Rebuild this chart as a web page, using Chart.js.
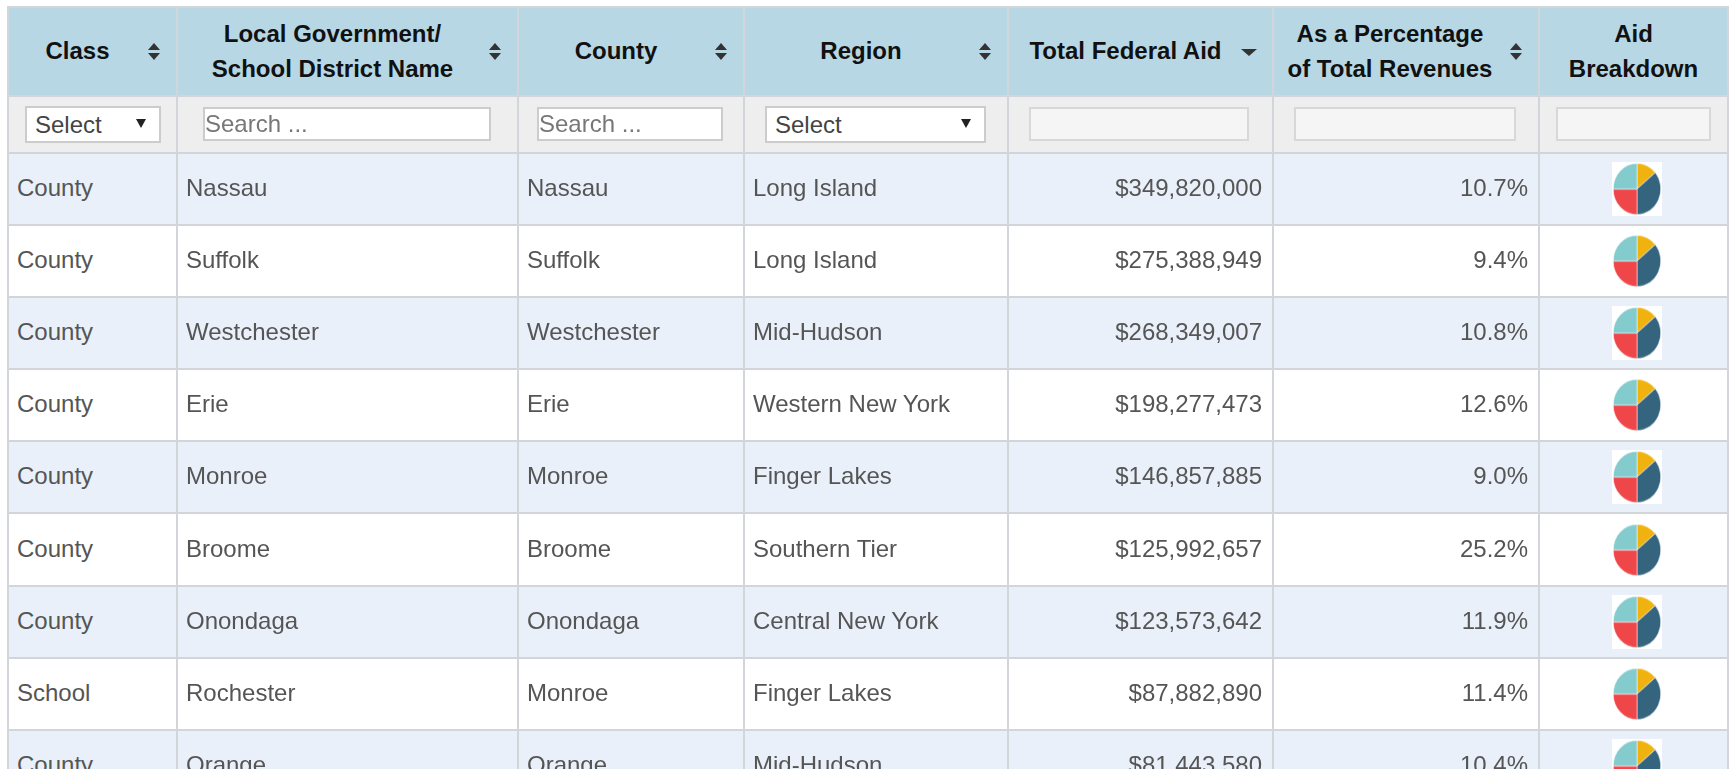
<!DOCTYPE html>
<html>
<head>
<meta charset="utf-8">
<title>Federal Aid</title>
<script src="https://cdn.jsdelivr.net/npm/chart.js@4"></script>
<style>
html, body { margin: 0; padding: 0; height: 769px; overflow: hidden; background: #fff; }
table {
    position: absolute; left: 7px; top: 6px; width: 1720px;
    table-layout: fixed; border-collapse: collapse;
    font-family: "Liberation Sans", Arial, sans-serif; font-size: 24px; color: #555;
    filter: blur(0.5px);
}
th, td { border: 2px solid #d2d5d9; padding: 0; position: relative; }
thead tr.head th {
    height: 89px; background: #b7d7e4; color: #111; font-size: 24px; line-height: 35px;
    font-weight: bold; text-align: center; padding: 0 30px 2px 0; box-sizing: border-box;
}
thead tr.head th:nth-child(6) { padding-right: 32px; }
thead tr.head th:nth-child(7) { padding-right: 0; }
tr.filters td { height: 55px; background: #eee; }
tbody td { height: 68.1px; padding: 0 10px 2px 8px; white-space: nowrap; background: #fff; box-sizing: content-box; }
tbody tr:nth-child(odd) td { background: #e9f0f9; }
td.num { text-align: right; }
.sort { position: absolute; right: 16px; top: 50%; width: 12px; height: 17px; margin-top: -9px; }
.sort i { position: absolute; left: 0; width: 0; height: 0; border-left: 6.5px solid transparent; border-right: 6.5px solid transparent; }
.sort .up { top: 0; border-bottom: 7px solid #333; }
.sort .down { bottom: 0; border-top: 7px solid #333; }
.sort.desc { right: 19px; }
.sort.desc .up { display: none; }
.sort.desc .down { bottom: 4px; border-left-width: 8px; border-right-width: 8px; border-top-width: 7px; }
.fld {
    position: absolute; box-sizing: border-box; top: 10px; height: 34px; border: 2px solid #ccc;
    background: #fff; font: 24px "Liberation Sans", Arial, sans-serif; color: #444; padding: 0 0 0 0;
    outline: none;
}
.fld::placeholder { color: #777; opacity: 1; }
input.blank { background: #f5f5f5; border-color: #d8d8d8; }
div.fld { top: 9px; height: 37px; padding-left: 8px; line-height: 33px; }
div.fld b { position: absolute; right: 13px; top: 11px; width: 0; height: 0;
    border-left: 5px solid transparent; border-right: 5px solid transparent; border-top: 9px solid #222; }
.pie { display: block; width: 50px; height: 50px; background: #fff; transform: scaleY(1.08); }
tbody td.piecell { padding: 0; text-align: center; height: 70.1px; }
.piewrap { width: 50px; margin: 0 auto; position: relative; left: 3px; top: 0; }
</style>
</head>
<body>
<table id="tbl">
    <colgroup id="cols"></colgroup>
    <thead>
        <tr class="head" id="headRow"></tr>
        <tr class="filters" id="filterRow"></tr>
    </thead>
    <tbody id="rows"></tbody>
</table>

<script>
// ------------------------------
// Data
// ------------------------------

const headers = [
    "Class",
    "Local Government/<br>School District Name",
    "County",
    "Region",
    "Total Federal Aid",
    "As a Percentage<br>of Total Revenues",
    "Aid<br>Breakdown"
];

const classes = ["County", "County", "County", "County", "County", "County", "County", "School", "County"];
const names = ["Nassau", "Suffolk", "Westchester", "Erie", "Monroe", "Broome", "Onondaga", "Rochester", "Orange"];
const counties = ["Nassau", "Suffolk", "Westchester", "Erie", "Monroe", "Broome", "Onondaga", "Monroe", "Orange"];
const regions = ["Long Island", "Long Island", "Mid-Hudson", "Western New York", "Finger Lakes", "Southern Tier", "Central New York", "Finger Lakes", "Mid-Hudson"];
const totalAid = ["$349,820,000", "$275,388,949", "$268,349,007", "$198,277,473", "$146,857,885", "$125,992,657", "$123,573,642", "$87,882,890", "$81,443,580"];
const pctRevenue = ["10.7%", "9.4%", "10.8%", "12.6%", "9.0%", "25.2%", "11.9%", "11.4%", "10.4%"];

// the pie icons in the last column all look the same
const pieValues = [14, 36, 25, 25];
const pieColors = ["#f0b20f", "#35647e", "#ee4649", "#84cbcd"];

const colWidths = [169, 341, 226, 264, 265, 266, 189];

// ------------------------------
// Table
// ------------------------------

document.getElementById("cols").innerHTML = colWidths.map(w => `<col style="width:${w}px">`).join("");

document.getElementById("headRow").innerHTML = headers.map((h, i) => {
    let icon = '<span class="sort"><i class="up"></i><i class="down"></i></span>';
    if (i === 4) icon = '<span class="sort desc"><i class="down"></i></span>';
    if (i === 6) icon = "";
    return `<th>${h}${icon}</th>`;
}).join("");

document.getElementById("filterRow").innerHTML = `
    <td><div class="fld" style="left:16px;width:136px">Select<b></b></div></td>
    <td><input class="fld" style="left:25px;width:288px" placeholder="Search ..."></td>
    <td><input class="fld" style="left:18px;width:186px" placeholder="Search ..."></td>
    <td><div class="fld" style="left:20px;width:221px">Select<b></b></div></td>
    <td><input class="fld blank" style="left:20px;width:220px"></td>
    <td><input class="fld blank" style="left:20px;width:222px"></td>
    <td><input class="fld blank" style="left:16px;width:155px"></td>`;

document.getElementById("rows").innerHTML = names.map((n, i) => `
    <tr>
        <td>${classes[i]}</td>
        <td>${n}</td>
        <td>${counties[i]}</td>
        <td>${regions[i]}</td>
        <td class="num">${totalAid[i]}</td>
        <td class="num">${pctRevenue[i]}</td>
        <td class="piecell"><div class="piewrap"><canvas class="pie" id="pie${i}" width="50" height="50"></canvas></div></td>
    </tr>`).join("");

// ------------------------------
// Aid Breakdown (Pie)
// ------------------------------

names.forEach((n, i) => {

    new Chart(document.getElementById("pie" + i), {

        type: "pie",

        data: {

            labels: ["Yellow", "Dark", "Red", "Teal"],

            datasets: [{

                data: pieValues,

                backgroundColor: pieColors,

                borderColor: "#ffffff",

                borderWidth: 0.5

            }]

        },

        options: {

            responsive: false,

            animation: false,

            layout: {

                padding: 1

            },

            plugins: {

                legend: {

                    display: false

                },

                tooltip: {

                    enabled: false

                }

            }

        }

    });

});
</script>
</body>
</html>
